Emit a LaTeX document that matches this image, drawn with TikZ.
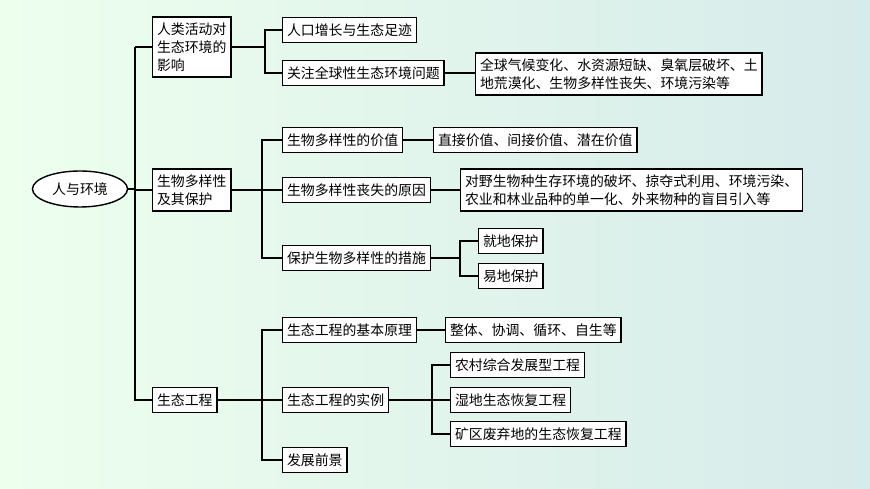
\documentclass[tikz,border=0pt]{standalone}
\usepackage{fontspec}
\setmainfont{Noto Sans CJK SC}
\usetikzlibrary{shapes.geometric}
\tikzset{
  box/.style={draw, thick, fill=white, anchor=west, inner xsep=2.5pt, inner ysep=3pt,
    minimum height=0.5cm, font=\fontsize{7.9}{10.4}\selectfont, align=left},
  link/.style={thick}
}
\begin{document}
\begin{tikzpicture}[x=0.02cm,y=-0.02cm]
  \shade[left color=green!7!white, right color=teal!16!white] (0,0) rectangle (870,489);
  \useasboundingbox (0,0) rectangle (870,489);
  % root
  \node[draw, thick, ellipse, fill=white, minimum width=1.5cm, minimum height=0.72cm,
    font=\fontsize{7.9}{9}\selectfont] (root) at (80,189) {人与环境};
  % level 1
  \node[box] (hum) at (152,47) {人类活动对\\生态环境的\\影响};
  \node[box] (bio) at (152,190) {生物多样性\\及其保护};
  \node[box] (eco) at (152,400) {生态工程};
  \coordinate (t1) at (135,47);
  \draw[link] (hum.west) -- (t1);
  \draw[link] (t1) |- (eco.west);
  \draw[link] (bio.west) -- (bio.west -| t1);
  \draw[link] (root.east) -- (root.east -| t1);
  % group 1
  \node[box] (pop) at (282,30) {人口增长与生态足迹};
  \node[box] (glob) at (282,73) {关注全球性生态环境问题};
  \node[box] (globd) at (475,74) {全球气候变化、水资源短缺、臭氧层破坏、土\\地荒漠化、生物多样性丧失、环境污染等};
  \coordinate (t2) at (265,47);
  \draw[link] (hum.east) -- (t2);
  \draw[link] (pop.west) -| (t2) |- (glob.west);
  \draw[link] (glob.east) -- (globd.west |- glob.east);
  % group 2
  \node[box] (val) at (282,140) {生物多样性的价值};
  \node[box] (vald) at (433,140) {直接价值、间接价值、潜在价值};
  \node[box] (loss) at (282,190) {生物多样性丧失的原因};
  \node[box] (lossd) at (460,190) {对野生物种生存环境的破坏、掠夺式利用、环境污染、\\农业和林业品种的单一化、外来物种的盲目引入等};
  \node[box] (prot) at (282,258) {保护生物多样性的措施};
  \node[box] (insitu) at (478,241) {就地保护};
  \node[box] (exsitu) at (478,276) {易地保护};
  \coordinate (t3) at (262,190);
  \draw[link] (bio.east) -- (t3);
  \draw[link] (val.west) -| (t3) |- (prot.west);
  \draw[link] (t3) -- (loss.west);
  \draw[link] (val.east) -- (vald.west);
  \draw[link] (loss.east) -- (lossd.west |- loss.east);
  \coordinate (t4) at (460,258);
  \draw[link] (prot.east) -- (t4);
  \draw[link] (insitu.west) -| (t4) |- (exsitu.west);
  % group 3
  \node[box] (prin) at (282,330) {生态工程的基本原理};
  \node[box] (prind) at (445,330) {整体、协调、循环、自生等};
  \node[box] (case) at (282,400) {生态工程的实例};
  \node[box] (c1) at (450,365) {农村综合发展型工程};
  \node[box] (c2) at (450,400) {湿地生态恢复工程};
  \node[box] (c3) at (450,434) {矿区废弃地的生态恢复工程};
  \node[box] (pros) at (282,460) {发展前景};
  \coordinate (t5) at (262,400);
  \draw[link] (eco.east) -- (t5);
  \draw[link] (prin.west) -| (t5) |- (pros.west);
  \draw[link] (t5) -- (case.west);
  \draw[link] (prin.east) -- (prind.west);
  \coordinate (t6) at (432,400);
  \draw[link] (case.east) -- (t6);
  \draw[link] (c1.west) -| (t6) |- (c3.west);
  \draw[link] (t6) -- (c2.west);
\end{tikzpicture}
\end{document}
